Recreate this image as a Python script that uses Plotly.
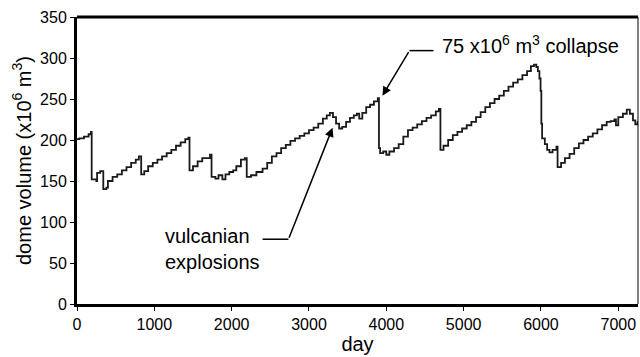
import plotly.graph_objects as go

# dome volume time series (day, volume x10^6 m^3)
days = [0, 30, 90, 150, 180, 190, 250, 260, 300, 340, 380, 400, 460, 520, 580, 640, 700, 760, 800,
        830, 870, 920, 980, 1040, 1100, 1160, 1220, 1280, 1340, 1400, 1440,
        1455, 1500, 1560, 1620, 1680, 1720,
        1740, 1790, 1830, 1880, 1920, 1970, 2020, 2060, 2120, 2170,
        2195, 2250, 2320, 2400, 2460, 2520, 2580, 2640, 2700, 2760, 2820, 2880, 2940, 3000, 3060,
        3120, 3180, 3230, 3270, 3310, 3350, 3390, 3430, 3480, 3530, 3580, 3620, 3650, 3690, 3740,
        3790, 3840, 3890,
        3905, 3920, 3960, 4000, 4040, 4100, 4160, 4220, 4280, 4340, 4400, 4460, 4520, 4580, 4640, 4680,
        4700, 4740, 4800, 4860, 4920, 4980, 5040, 5100, 5160, 5220, 5280, 5340, 5400, 5460, 5520,
        5580, 5640, 5700, 5760, 5820, 5870, 5910, 5940, 5960, 5980, 5995, 6005, 6015, 6050, 6080,
        6110, 6150, 6200,
        6215, 6260, 6310, 6370, 6430, 6490, 6550, 6610, 6670, 6730, 6790, 6850, 6900, 6950, 6970,
        7000, 7060, 7110, 7150, 7190, 7220, 7250]
volume = [201, 202, 204, 207, 210, 152, 150, 160, 162, 140, 142, 150, 155, 158, 163, 167, 172, 176, 180,
          158, 162, 168, 172, 176, 180, 184, 188, 193, 197, 201, 203,
          163, 168, 174, 178, 178, 182,
          155, 153, 157, 152, 158, 161, 163, 168, 176, 178,
          155, 157, 161, 165, 172, 180, 184, 190, 194, 199, 202, 205, 208, 212, 215,
          220, 226, 230, 233, 228, 220, 214, 216, 222, 227, 230, 232, 226, 233, 240,
          243, 247, 251,
          190, 184, 186, 182, 186, 190, 195, 204, 212, 215, 219, 223, 227, 230, 235, 238,
          188, 193, 200, 206, 210, 214, 218, 222, 228, 234, 240, 245, 250, 254, 260,
          265, 270, 274, 279, 284, 290, 292, 289, 284, 275, 260, 220, 202, 195, 188,
          185, 188, 192,
          167, 172, 178, 183, 190, 196, 200, 204, 208, 213, 218, 222, 223, 225, 218,
          228, 232, 237, 232, 224, 219, 223]

x_ticks = [0, 1000, 2000, 3000, 4000, 5000, 6000, 7000]
y_ticks = [0, 50, 100, 150, 200, 250, 300, 350]

FONT = "Liberation Sans, Arial, Helvetica, sans-serif"

fig = go.Figure()
fig.add_trace(go.Scatter(x=days, y=volume, mode="lines", line_shape="hv",
                         line=dict(color="#1a1a1a", width=1.8), showlegend=False))

axis_common = dict(showgrid=False, zeroline=False, ticks="outside", ticklen=4, tickwidth=1,
                   tickcolor="black", showline=True, linecolor="black", linewidth=3,
                   tickfont=dict(family=FONT, size=16, color="black"))

fig.update_xaxes(range=[0, 7255], tickvals=x_ticks,
                 title=dict(text="day", font=dict(family=FONT, size=20, color="black"), standoff=4),
                 **axis_common)
fig.update_yaxes(range=[0, 350], tickvals=y_ticks,
                 title=dict(text="dome volume (x10<sup>6</sup> m<sup>3</sup>)", font=dict(family=FONT, size=20, color="black"), standoff=4),
                 **axis_common)

# top (thick) and right (thin) frame lines
fig.add_shape(type="line", xref="paper", yref="paper", x0=0, x1=1, y0=1, y1=1, line=dict(color="black", width=3))
fig.add_shape(type="line", xref="paper", yref="paper", x0=1, x1=1, y0=0, y1=1, line=dict(color="black", width=1))

# collapse annotation
fig.add_shape(type="line", x0=4300, x1=4610, y0=309, y1=309, line=dict(color="black", width=1.5))
fig.add_annotation(x=3950, y=254, ax=4300, ay=309, axref="x", ayref="y", text="", showarrow=True,
                   arrowhead=2, arrowsize=1.2, arrowwidth=1.5, arrowcolor="black")
fig.add_annotation(x=4690, y=316, text="75 x10<sup>6</sup> m<sup>3</sup> collapse", showarrow=False,
                   xanchor="left", yanchor="middle", font=dict(family=FONT, size=20, color="black"))

# vulcanian annotation
fig.add_shape(type="line", x0=2400, x1=2735, y0=79, y1=79, line=dict(color="black", width=1.5))
fig.add_annotation(x=3305, y=215, ax=2735, ay=79, axref="x", ayref="y", text="", showarrow=True,
                   arrowhead=2, arrowsize=1.2, arrowwidth=1.5, arrowcolor="black")
fig.add_annotation(x=1110, y=67, text="vulcanian<br>explosions", showarrow=False, align="left",
                   xanchor="left", yanchor="middle", font=dict(family=FONT, size=20, color="black"))

fig.update_layout(width=640, height=357, margin=dict(l=77, r=2, t=17, b=53),
                  plot_bgcolor="white", paper_bgcolor="white")

fig.write_html("out.html")
